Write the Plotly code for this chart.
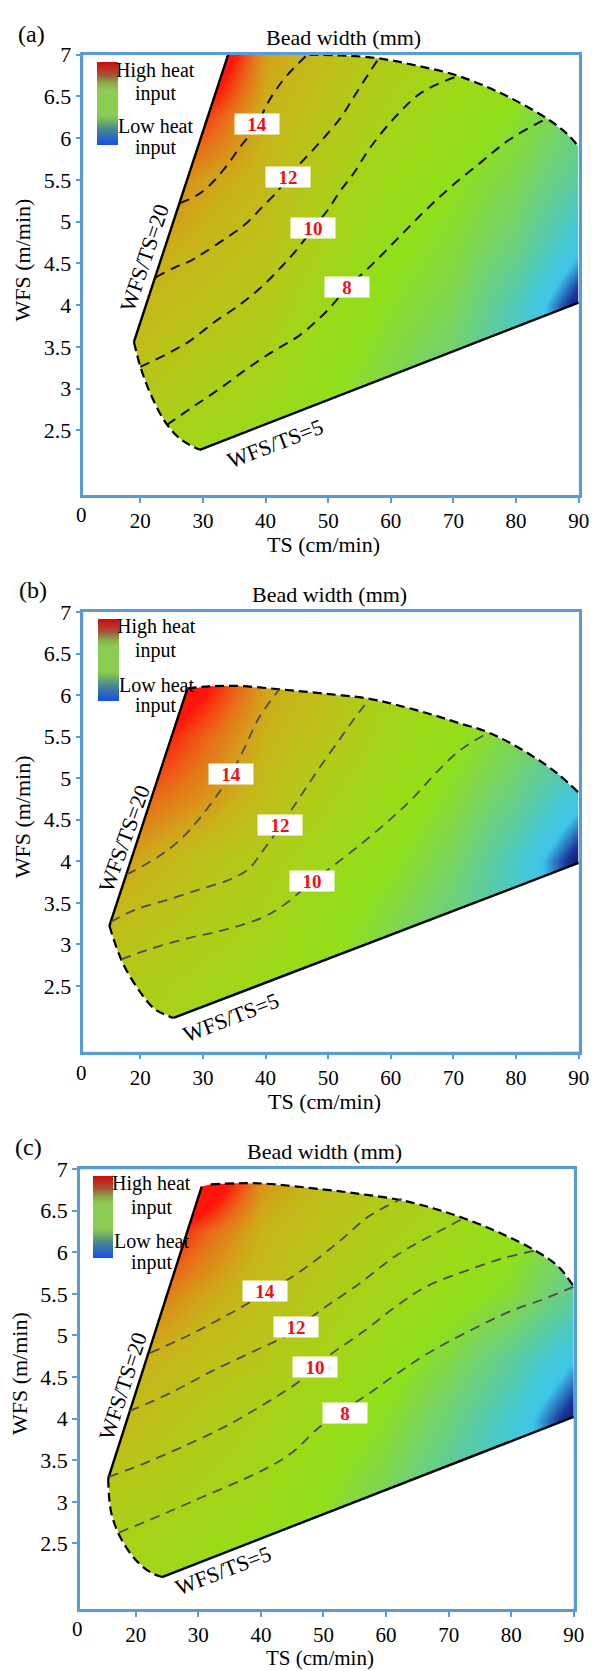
import plotly.graph_objects as go

FIG_W, FIG_H = 601, 1671
FONT = "Liberation Serif"
BLUE = "#5b9bd5"

# ---------------- shared ticks ----------------
TICK_TS = [20, 30, 40, 50, 60, 70, 80, 90]
TICK_TS_TEXT = ["20", "30", "40", "50", "60", "70", "80", "90"]
TICK_WFS = [2.5, 3, 3.5, 4, 4.5, 5, 5.5, 6, 6.5, 7]
TICK_WFS_TEXT = ["2.5", "3", "3.5", "4", "4.5", "5", "5.5", "6", "6.5", "7"]

# heat-input colour field, nodes
HEAT_TS = [10, 20, 30, 40, 50, 60, 70, 80, 90]
HEAT_WFS = [1.75, 2.5, 3.25, 4.0, 4.75, 5.5, 6.25, 7.0]

# ---------------- panel (a) ----------------
A_L20_TS = [18.98, 34.03]
A_L20_WFS = [3.56, 7.0]
A_L5_TS = [29.5, 90.0]
A_L5_WFS = [2.267, 4.03]
A_LEFT_TS = [18.98, 20.0, 21.7, 24.1, 26.5, 29.5]
A_LEFT_WFS = [3.56, 3.265, 2.925, 2.586, 2.39, 2.267]
A_TOP_TS = [34.03, 47.0, 52.0, 57.8, 64.0, 70.75, 77.7, 84.9, 88.0, 90.0]
A_TOP_WFS = [7.0, 7.0, 6.99, 6.958, 6.87, 6.745, 6.533, 6.236, 6.06, 5.896]
A_C14_TS = [26.3, 28.95, 31.0, 33.4, 36.0, 38.6, 40.2, 41.5, 43.36, 46.67]
A_C14_WFS = [5.22, 5.31, 5.43, 5.63, 5.90, 6.15, 6.40, 6.56, 6.745, 7.0]
A_C12_TS = [22.4, 25.5, 28.0, 30.0, 33.65, 36.8, 39.4, 42.0, 43.58, 45.7, 48.8, 51.95, 53.5, 55.5, 58.1]
A_C12_WFS = [4.33, 4.45, 4.53, 4.62, 4.80, 4.97, 5.17, 5.37, 5.54, 5.71, 5.96, 6.24, 6.42, 6.66, 6.958]
A_C10_TS = [20.0, 24.1, 27.7, 31.9, 35.8, 39.4, 42.55, 44.6, 46.2, 47.64, 49.85, 51.95, 54.0, 56.7, 60.8, 65.0, 70.75]
A_C10_WFS = [3.26, 3.41, 3.56, 3.80, 4.00, 4.22, 4.46, 4.63, 4.78, 4.93, 5.13, 5.37, 5.57, 5.885, 6.26, 6.55, 6.745]
A_C8_TS = [24.25, 28.3, 32.5, 36.7, 40.95, 45.2, 49.4, 53.0, 57.2, 61.4, 65.6, 69.8, 74.66, 78.9, 84.9]
A_C8_WFS = [2.566, 2.777, 2.989, 3.22, 3.435, 3.626, 3.90, 4.2, 4.5, 4.82, 5.14, 5.43, 5.727, 5.98, 6.236]
A_LABEL_TS = [38.6, 43.58, 47.64, 53.0]
A_LABEL_WFS = [6.163, 5.539, 4.926, 4.22]
A_LABEL_TEXT = ["14", "12", "10", "8"]
A_HEAT = [
    [0.62, 0.58, 0.52, 0.48, 0.42, 0.34, 0.26, 0.16, 0.08],
    [0.68, 0.64, 0.58, 0.54, 0.46, 0.38, 0.30, 0.18, 0.08],
    [0.74, 0.70, 0.65, 0.60, 0.50, 0.42, 0.34, 0.20, 0.06],
    [0.80, 0.74, 0.70, 0.66, 0.55, 0.46, 0.40, 0.24, 0.00],
    [0.86, 0.80, 0.75, 0.70, 0.60, 0.50, 0.44, 0.34, 0.16],
    [1.00, 0.90, 0.80, 0.74, 0.64, 0.55, 0.48, 0.40, 0.28],
    [1.20, 1.10, 0.95, 0.76, 0.68, 0.60, 0.54, 0.46, 0.34],
    [1.40, 1.35, 1.20, 0.80, 0.72, 0.64, 0.58, 0.52, 0.42],
]

# ---------------- panel (b) ----------------
B_L20_TS = [15.06, 27.5]
B_L20_WFS = [3.224, 6.074]
B_L5_TS = [25.3, 90.0]
B_L5_WFS = [2.115, 3.98]
B_LEFT_TS = [15.06, 16.27, 17.47, 19.9, 22.3, 25.3]
B_LEFT_WFS = [3.224, 2.947, 2.733, 2.435, 2.222, 2.115]
B_TOP_TS = [27.5, 31.0, 35.5, 42.2, 49.0, 56.6, 62.0, 66.8, 71.0, 75.6, 81.9, 86.7, 90.0]
B_TOP_WFS = [6.08, 6.105, 6.11, 6.07, 6.02, 5.955, 5.86, 5.76, 5.66, 5.55, 5.30, 5.05, 4.824]
B_C14_TS = [17.8, 22.9, 26.5, 29.5, 32.5, 34.45, 36.5, 38.9, 42.2]
B_C14_WFS = [3.84, 4.056, 4.27, 4.52, 4.82, 5.05, 5.34, 5.72, 6.07]
B_C12_TS = [15.26, 19.3, 24.7, 29.9, 34.3, 37.3, 39.7, 42.2, 45.2, 48.2, 51.8, 54.2, 56.6]
B_C12_WFS = [3.27, 3.42, 3.544, 3.672, 3.78, 3.907, 4.14, 4.4, 4.74, 5.08, 5.464, 5.72, 5.955]
B_C10_TS = [16.95, 21.7, 27.7, 33.7, 39.7, 43.4, 47.45, 50.0, 54.8, 60.2, 63.8, 67.4, 71.05, 75.6]
B_C10_WFS = [2.82, 2.947, 3.075, 3.18, 3.33, 3.5, 3.76, 3.9, 4.18, 4.525, 4.78, 5.08, 5.336, 5.55]
B_LABEL_TS = [34.45, 42.3, 47.45]
B_LABEL_WFS = [5.05, 4.44, 3.76]
B_LABEL_TEXT = ["14", "12", "10"]
B_HEAT = [
    [0.64, 0.60, 0.55, 0.50, 0.44, 0.36, 0.25, 0.15, 0.08],
    [0.70, 0.64, 0.59, 0.55, 0.48, 0.40, 0.28, 0.17, 0.08],
    [0.78, 0.70, 0.65, 0.60, 0.51, 0.42, 0.32, 0.19, 0.06],
    [0.86, 0.78, 0.70, 0.64, 0.56, 0.48, 0.38, 0.22, 0.00],
    [1.00, 0.90, 0.82, 0.72, 0.62, 0.54, 0.44, 0.32, 0.16],
    [1.15, 1.05, 0.90, 0.76, 0.68, 0.58, 0.50, 0.40, 0.30],
    [1.30, 1.25, 1.05, 0.80, 0.72, 0.62, 0.56, 0.46, 0.36],
    [1.40, 1.40, 1.30, 1.00, 0.80, 0.68, 0.60, 0.50, 0.40],
]

# ---------------- panel (c) ----------------
C_L20_TS = [15.6, 30.54]
C_L20_WFS = [3.28, 6.79]
C_L5_TS = [24.2, 90.0]
C_L5_WFS = [2.096, 4.022]
C_LEFT_TS = [15.6, 16.08, 17.6, 20.0, 22.4, 24.2]
C_LEFT_WFS = [3.28, 2.87, 2.565, 2.30, 2.15, 2.096]
C_TOP_TS = [30.54, 32.0, 36.0, 40.5, 49.5, 56.0, 62.2, 67.5, 72.4, 78.0, 83.85, 87.5, 90.0]
C_TOP_WFS = [6.79, 6.817, 6.83, 6.826, 6.76, 6.70, 6.63, 6.53, 6.41, 6.24, 6.02, 5.83, 5.587]
C_C14_TS = [22.3, 28.4, 34.5, 40.5, 46.5, 52.5, 57.3, 62.5]
C_C14_WFS = [4.79, 5.0, 5.24, 5.5, 5.78, 6.13, 6.435, 6.643]
C_C12_TS = [19.0, 25.4, 32.0, 39.3, 44.1, 49.5, 55.5, 61.6, 67.6, 72.4]
C_C12_WFS = [4.09, 4.304, 4.565, 4.826, 5.0, 5.30, 5.61, 5.96, 6.217, 6.41]
C_C10_TS = [15.7, 21.2, 27.2, 34.5, 40.5, 45.9, 48.7, 51.3, 56.7, 61.6, 66.4, 73.6, 79.0, 83.85]
C_C10_WFS = [3.30, 3.457, 3.652, 3.913, 4.174, 4.435, 4.62, 4.78, 5.065, 5.35, 5.587, 5.80, 5.935, 6.02]
C_C8_TS = [17.3, 23.6, 30.2, 36.9, 41.7, 45.3, 48.9, 52.5, 57.3, 62.2, 67.6, 73.6, 79.6, 85.1, 90.0]
C_C8_WFS = [2.63, 2.826, 3.043, 3.26, 3.435, 3.61, 3.87, 4.065, 4.304, 4.565, 4.826, 5.065, 5.283, 5.435, 5.587]
C_LABEL_TS = [40.6, 45.6, 48.7, 53.4]
C_LABEL_WFS = [5.53, 5.1, 4.62, 4.065]
C_LABEL_TEXT = ["14", "12", "10", "8"]
C_HEAT = [
    [0.60, 0.56, 0.52, 0.48, 0.42, 0.34, 0.23, 0.14, 0.06],
    [0.64, 0.60, 0.56, 0.52, 0.45, 0.36, 0.25, 0.15, 0.06],
    [0.70, 0.66, 0.62, 0.57, 0.49, 0.40, 0.28, 0.16, 0.05],
    [0.78, 0.72, 0.66, 0.61, 0.54, 0.46, 0.34, 0.20, 0.00],
    [0.86, 0.78, 0.72, 0.68, 0.60, 0.52, 0.42, 0.30, 0.14],
    [1.00, 0.90, 0.80, 0.72, 0.65, 0.58, 0.52, 0.44, 0.30],
    [1.20, 1.10, 0.92, 0.76, 0.69, 0.63, 0.57, 0.50, 0.38],
    [1.40, 1.40, 1.25, 0.84, 0.74, 0.68, 0.62, 0.56, 0.46],
]

# ---------------- styles ----------------
HEAT_SCALE = [
    [0.00, "#0a1a6e"], [0.05, "#1a3a9e"], [0.13, "#3ec6ea"], [0.20, "#46c8d2"],
    [0.28, "#5ccca2"], [0.36, "#72d270"], [0.42, "#82d846"], [0.48, "#90e01a"],
    [0.55, "#9cda18"], [0.62, "#aad018"], [0.70, "#bcc218"], [0.76, "#c8b41a"],
    [0.80, "#d4a01a"], [0.88, "#e8701a"], [0.94, "#f44414"], [1.00, "#ff160a"],
]
LEG_SCALE = [
    [0.0, "#1450e6"], [0.08, "#2a66c0"], [0.2, "#4a8c8c"], [0.3, "#78b85c"],
    [0.36, "#8ccc50"], [0.66, "#8ccc50"], [0.74, "#88b048"], [0.84, "#a0583a"],
    [0.92, "#c02a20"], [1.0, "#c80c0c"],
]

PANELS = [
    dict(sfx="", geom=dict(left=85, right=589.5, top=42.9, bottom=486.4),
         xr=[10.92, 90], yr=[1.727, 7], tag="(a)", tag_xy=(31.7, 22.3), title_xy=(350, 25.7),
         xt_xy=(330, 536), xt_size=22, yt_xy=(22.7, 250), zero_xy=(82.7, 507),
         bar=(99.3, 50, 83, 20.5), leg_xy=[(158.3, 59), (159, 81.7), (158, 115), (159, 136.7)],
         l20_lab=(20.6, 4.56, -71.5), l5_lab=(41.55, 2.34, -21),
         heat=A_HEAT, l20=(A_L20_TS, A_L20_WFS), l5=(A_L5_TS, A_L5_WFS),
         left_=(A_LEFT_TS, A_LEFT_WFS), top_=(A_TOP_TS, A_TOP_WFS), top_skip=1,
         contours=[(A_C14_TS, A_C14_WFS), (A_C12_TS, A_C12_WFS), (A_C10_TS, A_C10_WFS), (A_C8_TS, A_C8_WFS)],
         ccolor="#111111", cwidth=2.0,
         labels=(A_LABEL_TS, A_LABEL_WFS, A_LABEL_TEXT)),
    dict(sfx="2", geom=dict(left=85, right=589.5, top=604.3, bottom=1047.1),
         xr=[10.92, 90], yr=[1.71, 7], tag="(b)", tag_xy=(33.8, 582), title_xy=(335.6, 586.4),
         xt_xy=(331, 1097), xt_size=22, yt_xy=(23, 810.6), zero_xy=(82.7, 1068.6),
         bar=(99.7, 611.7, 81.5, 20.5), leg_xy=[(159, 619), (159, 642.7), (159, 678.3), (159, 699)],
         l20_lab=(17.47, 4.27, -70), l5_lab=(34.45, 2.115, -21),
         heat=B_HEAT, l20=(B_L20_TS, B_L20_WFS), l5=(B_L5_TS, B_L5_WFS),
         left_=(B_LEFT_TS, B_LEFT_WFS), top_=(B_TOP_TS, B_TOP_WFS), top_skip=0,
         contours=[(B_C14_TS, B_C14_WFS), (B_C12_TS, B_C12_WFS), (B_C10_TS, B_C10_WFS)],
         ccolor="#4d4d4d", cwidth=1.8,
         labels=(B_LABEL_TS, B_LABEL_WFS, B_LABEL_TEXT)),
    dict(sfx="3", geom=dict(left=81.4, right=584.5, top=1165.5, bottom=1609),
         xr=[11.08, 90], yr=[1.706, 7], tag="(c)", tag_xy=(28.8, 1143), title_xy=(330.8, 1147.3),
         xt_xy=(326, 1658), xt_size=21, yt_xy=(19.3, 1371), zero_xy=(78.7, 1629),
         bar=(95.2, 1172.8, 82, 20), leg_xy=[(154.6, 1180), (154.8, 1204.5), (154.6, 1237.7), (154.8, 1260)],
         l20_lab=(17.9, 4.39, -72), l5_lab=(33.98, 2.17, -21),
         heat=C_HEAT, l20=(C_L20_TS, C_L20_WFS), l5=(C_L5_TS, C_L5_WFS),
         left_=(C_LEFT_TS, C_LEFT_WFS), top_=(C_TOP_TS, C_TOP_WFS), top_skip=1,
         contours=[(C_C14_TS, C_C14_WFS), (C_C12_TS, C_C12_WFS), (C_C10_TS, C_C10_WFS), (C_C8_TS, C_C8_WFS)],
         ccolor="#4d4d4d", cwidth=1.8,
         labels=(C_LABEL_TS, C_LABEL_WFS, C_LABEL_TEXT)),
]


def px(x):
    return x / FIG_W


def py(y):
    return 1 - y / FIG_H


fig = go.Figure()
annotations = []
layout_axes = {}


def ptext(txt, xy, size, angle=0):
    annotations.append(dict(x=px(xy[0]), y=py(xy[1]), xref="paper", yref="paper", text=txt,
                            showarrow=False, xanchor="center", yanchor="middle", textangle=angle,
                            font=dict(family=FONT, size=size, color="black")))


for p in PANELS:
    xa = "x" + p["sfx"]
    ya = "y" + p["sfx"]
    g = p["geom"]

    # colour field
    fig.add_trace(go.Heatmap(
        x=HEAT_TS, y=HEAT_WFS, z=p["heat"], colorscale=HEAT_SCALE, zmin=0, zmax=1,
        zsmooth="best", showscale=False, hoverinfo="skip", xaxis=xa, yaxis=ya))

    # white mask outside the operating window (keyhole path)
    l20_ts, l20_w = p["l20"]
    l5_ts, l5_w = p["l5"]
    lf_ts, lf_w = p["left_"]
    tp_ts, tp_w = p["top_"]
    poly_ts = list(l20_ts) + list(tp_ts[1:]) + [l5_ts[1], l5_ts[0]] + list(reversed(lf_ts))[1:]
    poly_w = list(l20_w) + list(tp_w[1:]) + [l5_w[1], l5_w[0]] + list(reversed(lf_w))[1:]
    mask_x = [0, 100, 100, 0, 0] + poly_ts + [0]
    mask_y = [0, 0, 9, 9, 0] + poly_w + [0]
    fig.add_trace(go.Scatter(x=mask_x, y=mask_y, mode="lines", fill="toself",
                             fillcolor="white", line=dict(width=0, color="white"),
                             hoverinfo="skip", xaxis=xa, yaxis=ya))

    # boundaries
    for ts, w in (p["l20"], p["l5"]):
        fig.add_trace(go.Scatter(x=ts, y=w, mode="lines", line=dict(color="black", width=2.4),
                                 hoverinfo="skip", xaxis=xa, yaxis=ya))
    fig.add_trace(go.Scatter(x=lf_ts, y=lf_w, mode="lines", line_shape="spline",
                             line=dict(color="black", width=2.2, dash="9px,5px"),
                             hoverinfo="skip", xaxis=xa, yaxis=ya))
    k = p["top_skip"]
    fig.add_trace(go.Scatter(x=tp_ts[k:], y=tp_w[k:], mode="lines", line_shape="spline",
                             line=dict(color="black", width=2.2, dash="9px,5px"),
                             hoverinfo="skip", xaxis=xa, yaxis=ya))
    # contour lines
    for ts, w in p["contours"]:
        fig.add_trace(go.Scatter(x=ts, y=w, mode="lines", line_shape="spline",
                                 line=dict(color=p["ccolor"], width=p["cwidth"], dash="10px,7px"),
                                 hoverinfo="skip", xaxis=xa, yaxis=ya))

    # legend colour bar
    bx, btop, blen, bth = p["bar"]
    fig.add_trace(go.Scatter(
        x=[50], y=[0.5], mode="markers", xaxis=xa, yaxis=ya, hoverinfo="skip",
        marker=dict(size=1, color=[0.5], colorscale=LEG_SCALE, cmin=0, cmax=1, showscale=True,
                    colorbar=dict(x=px(bx), xanchor="left", y=py(btop), yanchor="top",
                                  len=blen, lenmode="pixels", thickness=bth, thicknessmode="pixels",
                                  xpad=0, ypad=0, outlinewidth=0, borderwidth=0,
                                  showticklabels=False, ticks=""))))

    # axes
    layout_axes["xaxis" + p["sfx"]] = dict(
        domain=[px(g["left"]), px(g["right"])], range=p["xr"], anchor=ya,
        tickmode="array", tickvals=TICK_TS, ticktext=TICK_TS_TEXT,
        ticks="outside", ticklen=5, tickwidth=2, tickcolor=BLUE,
        showline=True, linecolor=BLUE, linewidth=2.5, mirror=True,
        showgrid=False, zeroline=False, fixedrange=True,
        tickfont=dict(family=FONT, size=21, color="black"))
    layout_axes["yaxis" + p["sfx"]] = dict(
        domain=[py(g["bottom"]), py(g["top"])], range=p["yr"], anchor=xa,
        tickmode="array", tickvals=TICK_WFS, ticktext=TICK_WFS_TEXT,
        ticks="outside", ticklen=5, tickwidth=2, tickcolor=BLUE,
        showline=True, linecolor=BLUE, linewidth=2.5, mirror=True,
        showgrid=False, zeroline=False, fixedrange=True,
        tickfont=dict(family=FONT, size=22, color="black"))

    # contour labels
    lts, lw, ltx = p["labels"]
    for t, w, s in zip(lts, lw, ltx):
        annotations.append(dict(x=t, y=w, xref=xa, yref=ya, text="<b>" + s + "</b>", showarrow=False,
                                font=dict(family=FONT, size=19, color="#ee1111"),
                                bgcolor="white", width=44, height=20, borderpad=0))
    # boundary labels
    t, w, ang = p["l20_lab"]
    annotations.append(dict(x=t, y=w, xref=xa, yref=ya, text="WFS/TS=20", showarrow=False,
                            textangle=ang, font=dict(family=FONT, size=22, color="black")))
    t, w, ang = p["l5_lab"]
    annotations.append(dict(x=t, y=w, xref=xa, yref=ya, text="WFS/TS=5", showarrow=False,
                            textangle=ang, font=dict(family=FONT, size=22, color="black")))

    ptext(p["tag"], p["tag_xy"], 24)
    ptext("Bead width (mm)", p["title_xy"], 22)
    ptext("TS (cm/min)", p["xt_xy"], p["xt_size"])
    ptext("WFS (m/min)", p["yt_xy"], 22, -90)
    ptext("0", p["zero_xy"], 21)
    for s, xy in zip(["High heat", "input", "Low heat", "input"], p["leg_xy"]):
        ptext(s, xy, 20)

fig.update_layout(
    width=FIG_W, height=FIG_H, margin=dict(l=0, r=0, t=0, b=0),
    paper_bgcolor="white", plot_bgcolor="white", showlegend=False,
    font=dict(family=FONT, color="black"),
    annotations=annotations, **layout_axes)

fig.write_html("out.html")
